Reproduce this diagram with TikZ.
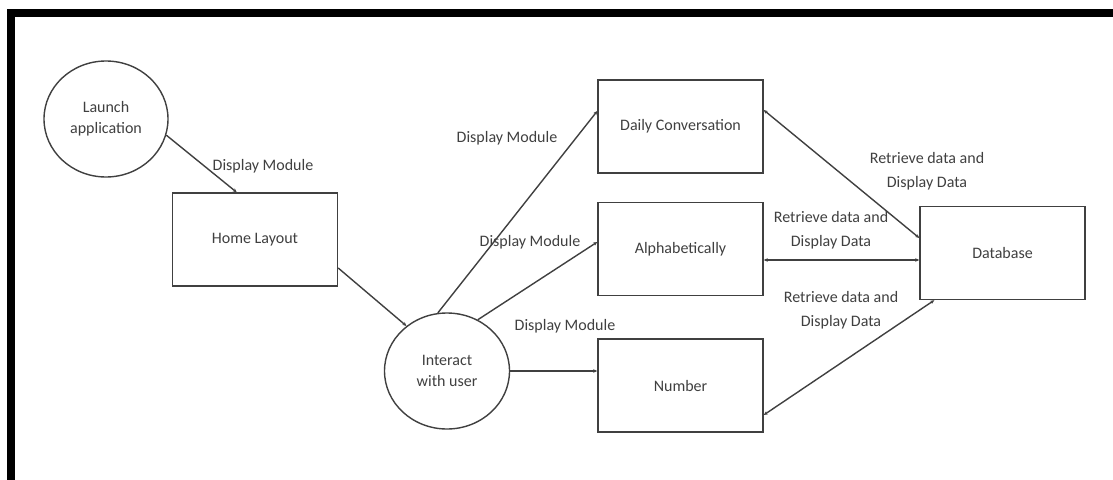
\documentclass[tikz,border=0pt]{standalone}
\usepackage{fontspec}
\setmainfont{Carlito}
\usetikzlibrary{shapes.geometric,arrows.meta,calc}

\tikzset{
  stepbox/.style={draw=black!75, line width=1.4pt, minimum width=165pt, minimum height=93pt, inner sep=0pt},
  bubble/.style={ellipse, draw=black!75, line width=1.4pt, minimum width=124pt, minimum height=116pt, inner sep=0pt, align=center},
  lbl/.style={text=black!75, align=center, font=\fontsize{16}{24}\selectfont, inner sep=0pt},
  flow/.style={draw=black!75, line width=1.4pt, -{Stealth[length=4pt,width=3.5pt]}},
  dataflow/.style={draw=black!75, line width=1.4pt, {Stealth[length=4pt,width=3.5pt]}-{Stealth[length=4pt,width=3.5pt]}},
}

\begin{document}
\begin{tikzpicture}[x=1pt, y=-1pt, font=\fontsize{16}{21}\selectfont, text=black!75]
  \useasboundingbox (0,0) rectangle (1113,479);
  \fill[white] (0,0) rectangle (1113,479);

  % frame along the top and left side
  \draw[line width=8pt, line cap=rect] (11,479) -- (11,13) -- (1113,13);

  % nodes
  \node[bubble] (launch) at (106,119) {Launch\\application};
  \node[stepbox] (home) at (255,239.5) {Home Layout};
  \node[bubble, minimum width=125pt] (interact) at (447,371) {Interact\\with user};
  \node[stepbox] (daily) at (680.5,126.5) {Daily Conversation};
  \node[stepbox] (alpha) at (680.5,249) {Alphabetically};
  \node[stepbox] (number) at (680.5,385.5) {Number};
  \node[stepbox] (db) at (1002.5,253) {Database};

  % navigation flow
  \draw[flow] (launch.-15) -- ($(home.north west)!0.39!(home.north east)$);
  \draw[flow] ($(home.east)+(0,28.5)$) -- (interact.132);
  \draw[flow] (interact.99) -- ($(daily.west)+(0,-15.5)$);
  \draw[flow] (interact.59) -- ($(alpha.west)+(0,-7)$);
  \draw[flow] (interact.east) -- (interact.east -| number.west);

  % data exchange with the database
  \draw[dataflow] ($(daily.east)+(0,-16.5)$) -- ($(db.west)+(0,-15)$);
  \draw[dataflow] ($(alpha.east)+(0,11)$) -- ($(db.west)+(0,7)$);
  \draw[dataflow] ($(number.east)+(0,29.5)$) -- ($(db.south west)+(15,0)$);

  % labels
  \node[lbl] (l1) at (263,166) {Display Module};
  \node[lbl] (l2) at (507,138) {Display Module};
  \node[lbl] (l3) at (530,242) {Display Module};
  \node[lbl] (l4) at (565,326) {Display Module};
  \node[lbl] (r1) at (927,171) {Retrieve data and\\Display Data};
  \node[lbl] (r2) at (831,230) {Retrieve data and\\Display Data};
  \node[lbl] (r3) at (841,310) {Retrieve data and\\Display Data};
\end{tikzpicture}
\end{document}
